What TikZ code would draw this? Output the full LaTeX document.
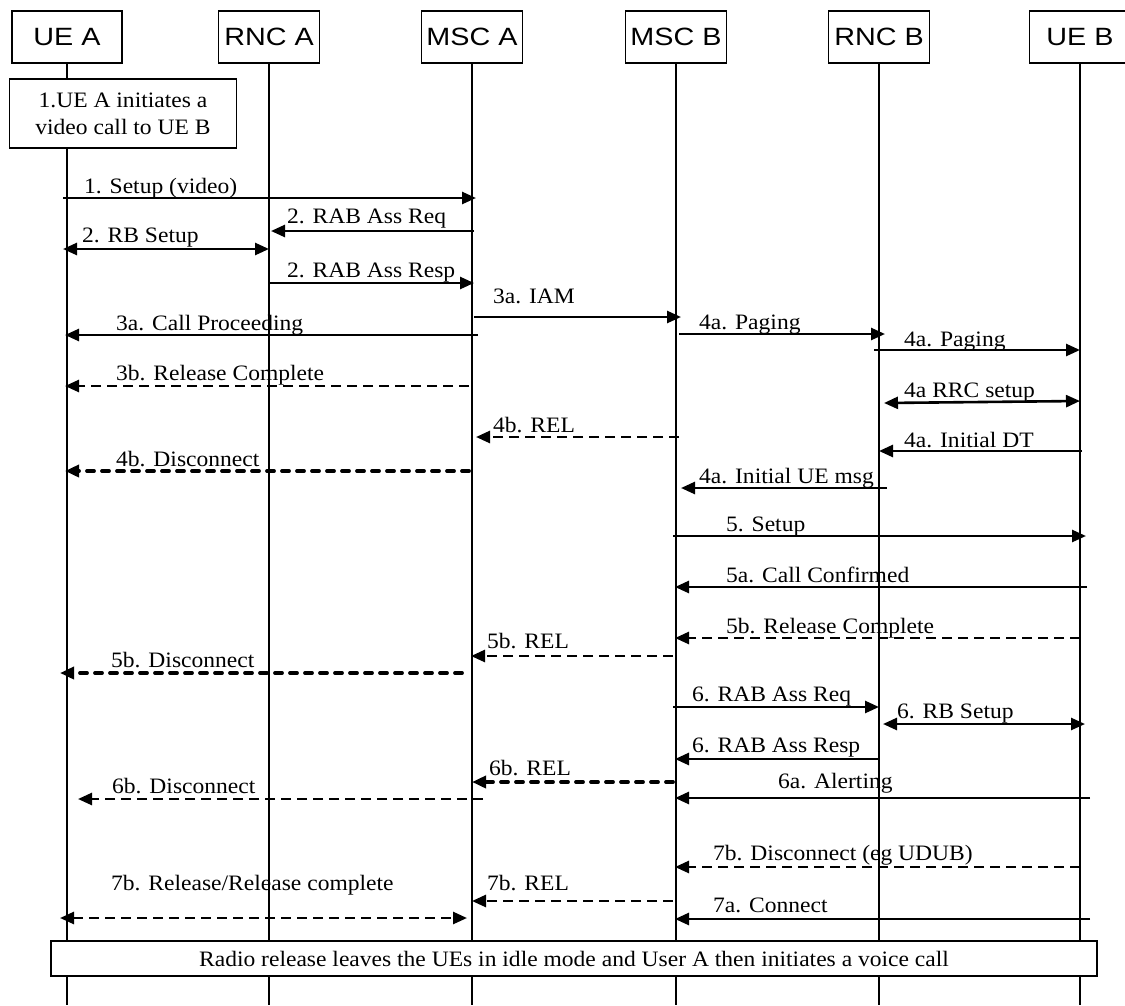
\documentclass[tikz,border=0pt]{standalone}
\usepackage{fontspec}
\setmainfont[FakeStretch=1.07]{Liberation Serif}
\newfontfamily\hdrfont[FakeStretch=1.15]{Liberation Sans}
\usetikzlibrary{arrows.meta}
\begin{document}
\begin{tikzpicture}[x=1pt,y=-1pt,
  hdr/.style={draw, line width=1.5pt, minimum width=101pt, minimum height=52pt, inner sep=0pt, fill=white, font=\hdrfont\fontsize{25}{28}\selectfont},
  life/.style={line width=1.4pt},
  tip/.tip={Triangle[length=14pt,width=12pt]},
  msg/.style={line width=2.6pt, -tip},
  bimsg/.style={line width=2.6pt, tip-tip},
  dmsg/.style={dash pattern=on 10pt off 6pt},
  ddmsg/.style={line width=3.8pt, line cap=round, dash pattern=on 7pt off 8pt},
  lbl/.style={anchor=base west, inner sep=0pt, font=\fontsize{22}{26}\selectfont},
  infobox/.style={draw, line width=1.5pt, fill=white, inner sep=0pt, font=\fontsize{22}{27}\selectfont, align=center},
]
\fill[white] (0,0) rectangle (1125,1005);
\useasboundingbox (0,0) rectangle (1125,1005);

% headers
\node[hdr, minimum width=110pt] (uea) at (67,37) {UE A};
\node[hdr] (rnca) at (269,37) {RNC A};
\node[hdr] (msca) at (472,37) {MSC A};
\node[hdr] (mscb) at (676,37) {MSC B};
\node[hdr] (rncb) at (879,37) {RNC B};
\node[hdr] (ueb) at (1080,37) {UE B};

% lifelines
\foreach \n in {uea,rnca,msca,mscb,rncb,ueb}
  \draw[life] (\n.south) -- (\n.south |- 0,1005);

% initial box
\node[infobox, minimum width=227pt, minimum height=69pt] (init) at (123,113.5)
  {1.UE A initiates a\\video call to UE B};

% messages
\draw[msg] ([xshift=-4pt]uea.south |- 0,198) -- ([xshift=4pt]msca.south |- 0,198);
\node[lbl] (t1) at (84,193) {1. Setup (video)};

\draw[msg] ([xshift=2pt]msca.south |- 0,231) -- ([xshift=2pt]rnca.south |- 0,231);
\node[lbl] (t2) at (287,223) {2. RAB Ass Req};

\draw[bimsg] ([xshift=-4pt]uea.south |- 0,249) -- (rnca.south |- 0,249);
\node[lbl] (t3) at (82,242) {2. RB Setup};

\draw[msg] (rnca.south |- 0,283) -- ([xshift=2pt]msca.south |- 0,283);
\node[lbl] (t4) at (287,277) {2. RAB Ass Resp};

\draw[msg] ([xshift=2pt]msca.south |- 0,317) -- ([xshift=5pt]mscb.south |- 0,317);
\node[lbl] (t5) at (493,303) {3a. IAM};

\draw[msg] ([xshift=6pt]msca.south |- 0,335) -- ([xshift=-2pt]uea.south |- 0,335);
\node[lbl] (t6) at (116,330) {3a. Call Proceeding};

\draw[msg,dmsg] ([xshift=-3pt]msca.south |- 0,386) -- ([xshift=-2pt]uea.south |- 0,386);
\node[lbl] (t7) at (116,380) {3b. Release Complete};

\draw[msg,dmsg] ([xshift=3pt]mscb.south |- 0,437) -- ([xshift=4pt]msca.south |- 0,437);
\node[lbl] (t8) at (493,432) {4b. REL};

\draw[msg,ddmsg] ([xshift=-3pt]msca.south |- 0,471) -- ([xshift=-2pt]uea.south |- 0,471);
\node[lbl] (t9) at (116,466) {4b. Disconnect};

\draw[msg] ([xshift=3pt]mscb.south |- 0,334) -- ([xshift=6pt]rncb.south |- 0,334);
\node[lbl] (t10) at (699,329) {4a. Paging};

\draw[msg] ([xshift=-5pt]rncb.south |- 0,350) -- (ueb.south |- 0,350);
\node[lbl] (t11) at (904,346) {4a. Paging};

\draw[bimsg] ([xshift=5pt]rncb.south |- 0,403) -- (ueb.south |- 0,401);
\node[lbl] (t12) at (904,397) {4a RRC setup};

\draw[msg] ([xshift=2pt]ueb.south |- 0,451) -- (rncb.south |- 0,451);
\node[lbl] (t13) at (904,447) {4a. Initial DT};

\draw[msg] ([xshift=8pt]rncb.south |- 0,488) -- ([xshift=5pt]mscb.south |- 0,488);
\node[lbl] (t14) at (699,483) {4a. Initial UE msg};

\draw[msg] ([xshift=-3pt]mscb.south |- 0,536) -- ([xshift=6pt]ueb.south |- 0,536);
\node[lbl] (t15) at (726,531) {5. Setup};

\draw[msg] ([xshift=7pt]ueb.south |- 0,587) -- ([xshift=-1pt]mscb.south |- 0,587);
\node[lbl] (t16) at (726,582) {5a. Call Confirmed};

\draw[msg,dmsg] (ueb.south |- 0,638) -- ([xshift=-1pt]mscb.south |- 0,638);
\node[lbl] (t17) at (726,633) {5b. Release Complete};

\draw[msg,dmsg] ([xshift=-3pt]mscb.south |- 0,656) -- ([xshift=-1pt]msca.south |- 0,656);
\node[lbl] (t18) at (487,648) {5b. REL};

\draw[msg,ddmsg] ([xshift=-10pt]msca.south |- 0,673) -- ([xshift=-7pt]uea.south |- 0,673);
\node[lbl] (t19) at (111,667) {5b. Disconnect};

\draw[msg] ([xshift=-3pt]mscb.south |- 0,707) -- (rncb.south |- 0,707);
\node[lbl] (t20) at (692,701) {6. RAB Ass Req};

\draw[bimsg] ([xshift=4pt]rncb.south |- 0,724) -- ([xshift=5pt]ueb.south |- 0,724);
\node[lbl] (t21) at (897,718) {6. RB Setup};

\draw[msg] (rncb.south |- 0,759) -- ([xshift=-1pt]mscb.south |- 0,759);
\node[lbl] (t22) at (692,752) {6. RAB Ass Resp};

\draw[msg,ddmsg] ([xshift=-3pt]mscb.south |- 0,782) -- (msca.south |- 0,782);
\node[lbl] (t23) at (489,775) {6b. REL};

\draw[msg] ([xshift=10pt]ueb.south |- 0,798) -- ([xshift=-1pt]mscb.south |- 0,798);
\node[lbl] (t24) at (778,788) {6a. Alerting};

\draw[msg,dmsg] ([xshift=11pt]msca.south |- 0,799) -- ([xshift=11pt]uea.south |- 0,799);
\node[lbl] (t25) at (112,793) {6b. Disconnect};

\draw[msg,dmsg] (ueb.south |- 0,867) -- ([xshift=-1pt]mscb.south |- 0,867);
\node[lbl] (t26) at (713,860) {7b. Disconnect (eg UDUB)};

\draw[msg,dmsg] ([xshift=-3pt]mscb.south |- 0,901) -- (msca.south |- 0,901);
\node[lbl] (t27) at (487,890) {7b. REL};

\draw[msg] ([xshift=10pt]ueb.south |- 0,919) -- ([xshift=-1pt]mscb.south |- 0,919);
\node[lbl] (t28) at (713,912) {7a. Connect};

\draw[bimsg,dmsg] ([xshift=-7pt]uea.south |- 0,918) -- ([xshift=-5pt]msca.south |- 0,918);
\node[lbl] (t29) at (111,890) {7b. Release/Release complete};

% bottom box
\node[infobox, minimum width=1046pt, minimum height=35pt] (note) at (574,958.5)
  {Radio release leaves the UEs in idle mode and User A then initiates a voice call};
\end{tikzpicture}
\end{document}
